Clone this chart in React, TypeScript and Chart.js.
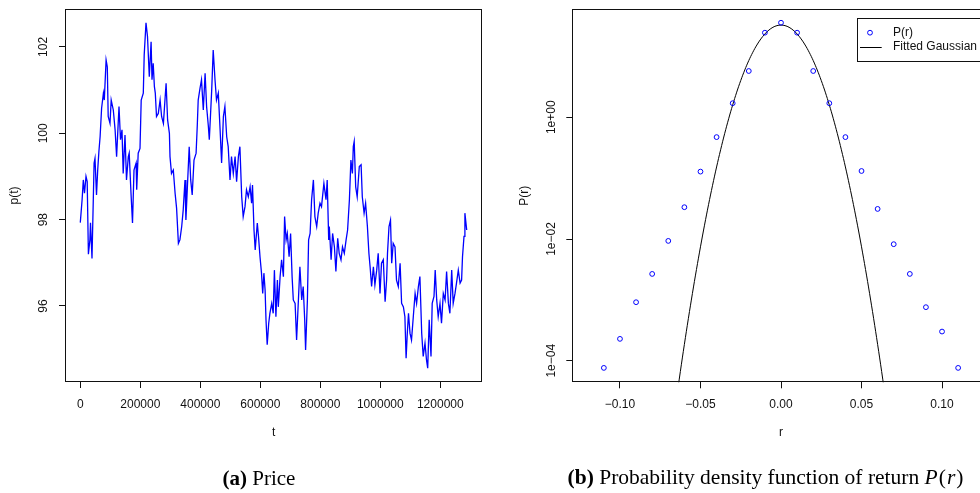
import React, { useEffect, useRef } from "react";
import { Chart, registerables } from "chart.js";

Chart.register(...registerables);

// ---------- Panel (a): price series ----------
const T_THOUSANDS = [
  0, 6, 10, 14, 19, 23, 27, 32, 34, 39, 46, 49, 54, 58, 62, 66, 71, 77, 80, 86,
  90, 93, 99, 103, 110, 116, 121, 129, 134, 139, 143, 149, 154, 160, 163, 169, 174, 179, 186, 188,
  193, 199, 203, 210, 213, 219, 224, 230, 236, 239, 243, 247, 250, 254, 260, 266, 271, 277, 286, 291,
  297, 299, 304, 310, 316, 321, 327, 332, 338, 343, 349, 352, 357, 363, 368, 373, 379, 386, 390, 393,
  399, 404, 410, 416, 421, 427, 430, 434, 438, 443, 449, 454, 460, 466, 471, 477, 482, 488, 493, 499,
  504, 510, 516, 521, 527, 532, 538, 543, 549, 554, 560, 566, 571, 574, 579, 583, 590, 594, 599, 604,
  608, 612, 616, 619, 623, 628, 632, 638, 643, 647, 652, 657, 660, 666, 671, 677, 681, 686, 690, 696,
  701, 706, 710, 716, 721, 727, 732, 738, 743, 748, 751, 757, 761, 766, 771, 777, 782, 788, 793, 799,
  804, 812, 819, 823, 828, 830, 836, 841, 847, 852, 858, 863, 869, 874, 880, 886, 891, 897, 902, 907,
  910, 913, 918, 923, 930, 936, 940, 946, 951, 957, 962, 966, 971, 977, 982, 988, 993, 999, 1004, 1010,
  1016, 1021, 1024, 1029, 1034, 1038, 1043, 1049, 1054, 1060, 1066, 1071, 1077, 1082, 1086, 1090, 1094, 1099, 1104, 1110,
  1116, 1121, 1127, 1132, 1138, 1143, 1149, 1154, 1158, 1163, 1169, 1173, 1179, 1183, 1188, 1193, 1199, 1204, 1210, 1216,
  1221, 1227, 1232, 1238, 1243, 1249, 1254, 1260, 1266, 1271, 1274, 1279, 1282, 1288,
];

const PRICE = [
  97.93, 98.46, 98.92, 98.61, 99.0, 98.88, 97.2, 97.53, 97.93, 97.1, 99.31, 99.42, 98.57, 99.15, 99.58, 99.92, 100.58, 100.93, 100.77, 101.7,
  101.54, 100.39, 100.23, 100.77, 100.54, 100.08, 99.46, 100.62, 99.85, 100.08, 99.07, 99.96, 98.92, 99.46, 99.54, 98.61, 97.92, 99.15, 99.31, 98.69,
  99.54, 99.65, 100.77, 100.93, 101.81, 102.56, 102.24, 101.31, 102.12, 101.24, 101.62, 101.08, 100.93, 100.39, 100.46, 100.77, 100.39, 100.23, 101.16, 100.31,
  100.0, 99.46, 99.07, 99.15, 98.61, 98.26, 97.45, 97.53, 97.84, 98.22, 98.92, 97.99, 98.76, 99.69, 98.92, 98.57, 99.38, 99.54, 100.19, 100.77,
  101.04, 101.24, 100.54, 101.39, 100.62, 100.15, 99.85, 100.42, 101.0, 101.93, 101.24, 100.77, 100.93, 100.08, 99.31, 100.39, 100.62, 99.92, 99.69, 98.92,
  99.46, 99.07, 99.46, 98.88, 99.46, 99.69, 98.53, 98.07, 98.3, 98.69, 98.53, 98.76, 98.38, 98.8, 97.76, 97.3, 97.92, 97.61, 97.14, 96.76,
  96.29, 96.76, 96.37, 95.68, 95.1, 95.6, 95.83, 96.06, 95.83, 96.83, 95.75, 96.6, 95.98, 96.68, 97.07, 96.68, 98.07, 97.53, 97.68, 97.14,
  97.68, 96.68, 96.14, 96.06, 95.21, 96.14, 96.91, 96.14, 96.45, 95.68, 94.98, 96.14, 97.53, 97.68, 98.46, 98.92, 98.07, 97.84, 98.15, 98.38,
  98.3, 98.84, 98.46, 98.92, 97.53, 97.84, 97.07, 97.68, 97.37, 96.8, 97.57, 97.22, 97.07, 97.37, 97.22, 97.53, 97.76, 98.46, 99.38, 99.07,
  99.69, 99.81, 98.76, 98.53, 99.23, 99.27, 98.53, 98.15, 98.38, 97.84, 97.22, 96.91, 96.45, 96.91, 96.49, 96.83, 97.22, 96.29, 96.99, 97.07,
  96.1, 96.6, 97.22, 97.84, 97.99, 96.99, 97.45, 97.37, 96.6, 96.45, 96.99, 96.06, 95.98, 95.75, 94.79, 95.37, 95.83, 95.37, 95.21, 95.75,
  96.29, 96.06, 96.45, 96.68, 95.37, 94.83, 95.14, 94.75, 94.56, 95.68, 94.83, 96.06, 96.22, 96.83, 96.14, 95.75, 96.06, 95.6, 96.29, 96.14,
  96.8, 96.06, 95.83, 96.83, 96.06, 96.29, 96.53, 96.83, 96.53, 96.6, 97.14, 97.61, 98.15, 97.76,
];

const PRICE_X_TICKS = [0, 200000, 400000, 600000, 800000, 1000000, 1200000];
const PRICE_Y_TICKS = [96, 98, 100, 102];

// ---------- Panel (b): PDF of returns ----------
const RETURN_BINS = [
  -0.11, -0.1, -0.09, -0.08, -0.07, -0.06, -0.05, -0.04, -0.03, -0.02, -0.01, 0,
  0.01, 0.02, 0.03, 0.04, 0.05, 0.06, 0.07, 0.08, 0.09, 0.1, 0.11,
];
const PDF_VALUES = [
  7.64e-5, 2.29e-4, 9.16e-4, 2.67e-3, 9.31e-3, 3.33e-2, 0.128, 0.472, 1.7, 5.75, 24.5, 35.7,
  24.5, 5.75, 1.7, 0.472, 0.131, 0.0312, 0.00822, 0.00267, 7.59e-4, 3.02e-4, 7.64e-5,
];

const GAUSS_R = [
  -0.065, -0.0625, -0.06, -0.0575, -0.055, -0.0525, -0.05, -0.0475, -0.045, -0.0425, -0.04, -0.0375, -0.035,
  -0.0325, -0.03, -0.0275, -0.025, -0.0225, -0.02, -0.0175, -0.015, -0.0125, -0.01, -0.0075, -0.005, -0.0025,
  0, 0.0025, 0.005, 0.0075, 0.01, 0.0125, 0.015, 0.0175, 0.02, 0.0225, 0.025, 0.0275, 0.03, 0.0325,
  0.035, 0.0375, 0.04, 0.0425, 0.045, 0.0475, 0.05, 0.0525, 0.055, 0.0575, 0.06, 0.0625, 0.065,
];
const GAUSS_P = [
  2.286e-5, 6.658e-5, 1.86e-4, 4.982e-4, 1.28e-3, 3.153e-3, 7.447e-3, 0.01687, 0.03664, 0.0763, 0.1525, 0.292, 0.5363,
  0.9446, 1.596, 2.584, 4.013, 5.976, 8.538, 11.69, 15.36, 19.34, 23.35, 27.05, 30.04, 31.98,
  32.66, 31.98, 30.04, 27.05, 23.35, 19.34, 15.36, 11.69, 8.538, 5.976, 4.013, 2.584, 1.596, 0.9446,
  0.5363, 0.292, 0.1525, 0.0763, 0.03664, 0.01687, 7.447e-3, 3.153e-3, 1.28e-3, 4.982e-4, 1.86e-4, 6.658e-5, 2.286e-5,
];

const PDF_X_TICKS = [-0.1, -0.05, 0, 0.05, 0.1];
const PDF_Y_TICKS = [1e-4, 1e-2, 1];

// ---------- styling ----------
const SANS = "'Liberation Sans', Arial, Helvetica, sans-serif";
const SERIF = "'Liberation Serif', 'Times New Roman', Times, serif";
const INK = "#111";
const FONT = `12px ${SANS}`;

Chart.defaults.font.family = SANS;
Chart.defaults.font.size = 12;
Chart.defaults.color = INK;

const minus = (s: string) => s.replace("-", "\u2212");

type Decor = {
  yTickX: number;
  yLabel: (v: number) => string;
  yTitle: string;
  yTitleX: number;
  xTitle: string;
  xTitleY: number;
  legend?: { left: number; top: number; bottom: number; symX: number; lineX1: number; lineX2: number; textX: number; rows: number[] };
};

function makeDecor(d: Decor) {
  return {
    id: "decor",
    afterDraw(chart: any) {
      const ctx: CanvasRenderingContext2D = chart.ctx;
      const a = chart.chartArea;
      ctx.save();
      // frame (R box)
      ctx.strokeStyle = INK;
      ctx.lineWidth = 1;
      const l = Math.round(a.left) + 0.5;
      const t = Math.round(a.top) + 0.5;
      const r = Math.round(a.right) - 0.5;
      const b = Math.round(a.bottom) - 0.5;
      ctx.strokeRect(l, t, r - l, b - t);

      // rotated y tick labels
      ctx.font = FONT;
      ctx.fillStyle = INK;
      ctx.textAlign = "center";
      ctx.textBaseline = "middle";
      const ys = chart.scales.y;
      ys.ticks.forEach((tk: any) => {
        const py = ys.getPixelForValue(tk.value);
        ctx.save();
        ctx.translate(d.yTickX, py);
        ctx.rotate(-Math.PI / 2);
        ctx.fillText(d.yLabel(tk.value), 0, 0);
        ctx.restore();
      });

      // axis titles
      const cy = (a.top + a.bottom) / 2;
      ctx.save();
      ctx.translate(d.yTitleX, cy);
      ctx.rotate(-Math.PI / 2);
      ctx.fillText(d.yTitle, 0, 0);
      ctx.restore();
      ctx.fillText(d.xTitle, (a.left + a.right) / 2, d.xTitleY);

      // legend box
      if (d.legend) {
        const L = d.legend;
        ctx.fillStyle = "#fff";
        ctx.fillRect(L.left, L.top, r - L.left, L.bottom - L.top);
        ctx.strokeStyle = INK;
        ctx.strokeRect(Math.round(L.left) + 0.5, Math.round(L.top) + 0.5, r - Math.round(L.left) - 0.5, Math.round(L.bottom - L.top));
        const ds = chart.data.datasets;
        // row 1: point symbol
        ctx.strokeStyle = ds[0].borderColor;
        ctx.lineWidth = 1;
        ctx.beginPath();
        ctx.arc(L.symX, L.rows[0], 2.4, 0, Math.PI * 2);
        ctx.stroke();
        // row 2: line symbol
        ctx.strokeStyle = ds[1].borderColor;
        ctx.beginPath();
        ctx.moveTo(L.lineX1, Math.round(L.rows[1]) + 0.5);
        ctx.lineTo(L.lineX2, Math.round(L.rows[1]) + 0.5);
        ctx.stroke();
        ctx.fillStyle = INK;
        ctx.textAlign = "left";
        ctx.fillText(ds[0].label, L.textX, L.rows[0]);
        ctx.fillText(ds[1].label, L.textX, L.rows[1]);
      }
      ctx.restore();
    },
  };
}

const tickGrid = {
  display: true,
  drawOnChartArea: false,
  drawTicks: true,
  tickLength: 6,
  color: INK,
  lineWidth: 1,
};

function PricePanel() {
  const ref = useRef<HTMLCanvasElement>(null);
  useEffect(() => {
    if (!ref.current) return;
    const chart = new Chart(ref.current, {
      type: "line",
      data: {
        datasets: [
          {
            label: "p(t)",
            data: T_THOUSANDS.map((t, i) => ({ x: t * 1000, y: PRICE[i] })),
            borderColor: "#0000ff",
            borderWidth: 1.3,
            pointRadius: 0,
            tension: 0,
            fill: false,
          },
        ],
      },
      options: {
        animation: false,
        responsive: false,
        events: [],
        layout: { padding: { top: 9, right: 7.7, left: 0, bottom: 0 } },
        plugins: { legend: { display: false }, tooltip: { enabled: false } },
        scales: {
          x: {
            type: "linear",
            min: -51000,
            max: 1340000,
            grid: tickGrid,
            border: { display: false },
            ticks: { font: { size: 12 }, color: INK, padding: 9, maxRotation: 0, callback: (v: any) => String(v) },
            afterBuildTicks: (s: any) => {
              s.ticks = PRICE_X_TICKS.map((v) => ({ value: v }));
            },
            afterFit: (s: any) => {
              s.height = 111;
            },
          },
          y: {
            type: "linear",
            min: 94.239,
            max: 102.879,
            grid: tickGrid,
            border: { display: false },
            ticks: { display: false },
            afterBuildTicks: (s: any) => {
              s.ticks = PRICE_Y_TICKS.map((v) => ({ value: v }));
            },
            afterFit: (s: any) => {
              s.width = 65;
            },
          },
        },
      },
      plugins: [
        makeDecor({
          yTickX: 43.3,
          yLabel: (v) => String(v),
          yTitle: "p(t)",
          yTitleX: 15,
          xTitle: "t",
          xTitleY: 433,
        }),
      ],
    } as any);
    return () => chart.destroy();
  }, []);
  return <canvas ref={ref} width={490} height={493} style={{ position: "absolute", left: 0, top: 0, width: 490, height: 493 }} />;
}

function PdfPanel() {
  const ref = useRef<HTMLCanvasElement>(null);
  useEffect(() => {
    if (!ref.current) return;
    const chart = new Chart(ref.current, {
      type: "line",
      data: {
        datasets: [
          {
            label: "P(r)",
            data: RETURN_BINS.map((r, i) => ({ x: r, y: PDF_VALUES[i] })),
            showLine: false,
            borderColor: "#0000ff",
            backgroundColor: "rgba(0,0,0,0)",
            pointRadius: 2.4,
            pointBorderWidth: 1,
            pointStyle: "circle",
          },
          {
            label: "Fitted Gaussian",
            data: GAUSS_R.map((r, i) => ({ x: r, y: GAUSS_P[i] })),
            borderColor: "#000000",
            borderWidth: 1,
            pointRadius: 0,
            tension: 0.4,
            fill: false,
          },
        ],
      },
      options: {
        animation: false,
        responsive: false,
        events: [],
        layout: { padding: { top: 9, right: 10.3, left: 0, bottom: 0 } },
        plugins: { legend: { display: false }, tooltip: { enabled: false } },
        scales: {
          x: {
            type: "linear",
            min: -0.1296,
            max: 0.1296,
            grid: tickGrid,
            border: { display: false },
            ticks: {
              font: { size: 12 },
              color: INK,
              padding: 9,
              maxRotation: 0,
              callback: (v: any) => minus(Number(v).toFixed(2)),
            },
            afterBuildTicks: (s: any) => {
              s.ticks = PDF_X_TICKS.map((v) => ({ value: v }));
            },
            afterFit: (s: any) => {
              s.height = 110.7;
            },
          },
          y: {
            type: "logarithmic",
            min: 4.43e-5,
            max: 60,
            grid: tickGrid,
            border: { display: false },
            ticks: { display: false },
            afterBuildTicks: (s: any) => {
              s.ticks = PDF_Y_TICKS.map((v) => ({ value: v }));
            },
            afterFit: (s: any) => {
              s.width = 82.3;
            },
          },
        },
      },
      plugins: [
        makeDecor({
          yTickX: 61.7,
          yLabel: (v) => {
            const e = Math.round(Math.log10(v));
            return "1e" + (e < 0 ? "\u2212" : "+") + String(Math.abs(e)).padStart(2, "0");
          },
          yTitle: "P(r)",
          yTitleX: 35,
          xTitle: "r",
          xTitleY: 433,
          legend: {
            left: 366.7,
            top: 17.7,
            bottom: 61,
            symX: 380,
            lineX1: 370,
            lineX2: 391.7,
            textX: 403,
            rows: [32.7, 46.7],
          },
        }),
      ],
    } as any);
    return () => chart.destroy();
  }, []);
  return <canvas ref={ref} width={510} height={493} style={{ position: "absolute", left: 490, top: 0, width: 510, height: 493 }} />;
}

const captionStyle: React.CSSProperties = {
  position: "absolute",
  top: 465.5,
  fontFamily: SERIF,
  fontSize: 21,
  lineHeight: "24px",
  color: "#000",
  textAlign: "center",
  whiteSpace: "nowrap",
};

export default function App() {
  return (
    <div
      style={{
        position: "fixed",
        left: 0,
        top: 0,
        width: 980,
        height: 493,
        overflow: "hidden",
        background: "#fff",
      }}
    >
      <PricePanel />
      <PdfPanel />
      <div style={{ ...captionStyle, left: 59, width: 400 }}>
        <b>(a)</b> Price
      </div>
      <div style={{ ...captionStyle, left: 516, width: 500, fontSize: 21.5, top: 465 }}>
        <b>(b)</b> Probability density function of return{" "}
        <span style={{ letterSpacing: "1px" }}>
          <i>P</i>(<i>r</i>)
        </span>
      </div>
    </div>
  );
}
